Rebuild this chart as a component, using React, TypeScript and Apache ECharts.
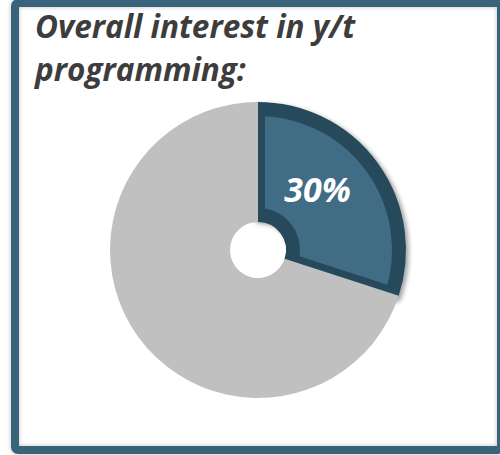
import React, { useEffect, useRef } from "react";
import * as echarts from "echarts";

const categories = ["Interested", "Not interested"];
const values = [30, 70];
const titleLines = ["Overall interest in y/t", "programming:"];

export default function App() {
  const ref = useRef<HTMLDivElement>(null);
  useEffect(() => {
    const chart = echarts.init(ref.current!, null, { renderer: "svg" });
    const center = [258, 250];
    chart.setOption({
      animation: false,
      backgroundColor: "#ffffff",
      title: {
        text: titleLines.join("\n"),
        left: 30,
        top: -1,
        textStyle: {
          fontFamily: "Open Sans",
          fontWeight: "bold",
          fontStyle: "italic",
          fontSize: 31.5,
          lineHeight: 43,
          color: "#3d3d3d",
        },
      },
      graphic: [
        {
          type: "rect",
          shape: { x: 15, y: 3, width: 486, height: 447, r: 3 },
          style: {
            fill: "none",
            stroke: "#37647a",
            lineWidth: 8,
            shadowColor: "rgba(0,0,0,0.25)",
            shadowBlur: 4,
          },
          z: 10,
        },
      ],
      series: [
        {
          type: "pie",
          center,
          radius: [35, 141],
          startAngle: 90,
          clockwise: true,
          z: 2,
          label: {
            show: true,
            position: "inside",
            formatter: (p: any) => (p.dataIndex === 0 ? `${p.value}%` : ""),
            color: "#ffffff",
            fontFamily: "Open Sans",
            fontWeight: "bold",
            fontStyle: "italic",
            fontSize: 34,
          },
          labelLayout: (p: any) => (p.dataIndex === 0 ? { dx: -14, dy: -8 } : {}),
          labelLine: { show: false },
          emphasis: { disabled: true },
          data: categories.map((c, i) => ({
            name: c,
            value: values[i],
            itemStyle:
              i === 0
                ? {
                    color: "#3f6d85",
                    borderColor: "#274a5c",
                    borderWidth: 14,
                    shadowColor: "rgba(0,0,0,0.35)",
                    shadowBlur: 4,
                    shadowOffsetX: 3,
                    shadowOffsetY: 2,
                  }
                : { color: "rgba(0,0,0,0)", borderWidth: 0 },
          })),
        },
        {
          type: "pie",
          center,
          radius: [28, 148],
          startAngle: 90,
          clockwise: true,
          z: 3,
          silent: true,
          label: { show: false },
          labelLine: { show: false },
          emphasis: { disabled: true },
          data: categories.map((c, i) => ({
            name: c,
            value: values[i],
            itemStyle:
              i === 0
                ? { color: "rgba(0,0,0,0)", borderWidth: 0 }
                : { color: "#c0c0c0", borderWidth: 0 },
          })),
        },
      ],
    });
    return () => chart.dispose();
  }, []);
  return (
    <div
      ref={ref}
      style={{ position: "fixed", left: 0, top: 0, width: 500, height: 455 }}
    />
  );
}
